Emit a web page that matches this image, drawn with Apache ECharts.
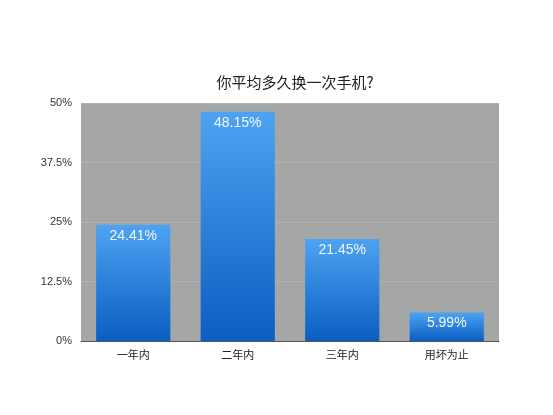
<!DOCTYPE html>
<html><head><meta charset="utf-8">
<script src="https://cdn.jsdelivr.net/npm/echarts@6/dist/echarts.min.js"></script>
<style>html,body{margin:0;padding:0;background:#fff}#c{width:553px;height:415px}</style>
</head><body><div id="c"></div>
<script>
const title = '你平均多久换一次手机?';
const categories = ['一年内', '二年内', '三年内', '用坏为止'];
const values = [24.41, 48.15, 21.45, 5.99];
const yTicks = [0, 12.5, 25, 37.5, 50];

const chart = echarts.init(document.getElementById('c'));
chart.setOption({
  animation: false,
  title: {
    text: title, left: 290, textAlign: 'center', top: 70,
    textStyle: { fontFamily: 'Noto Sans CJK SC', fontSize: 15, fontWeight: 'normal', color: '#222' }
  },
  grid: { left: 81, right: 54, top: 103, bottom: 74, show: true, backgroundColor: '#a4a7a6', borderWidth: 0 },
  xAxis: {
    type: 'category', data: categories,
    axisLine: { lineStyle: { color: '#555', width: 1 } },
    axisTick: { show: false },
    axisLabel: { fontFamily: 'Noto Sans CJK SC', fontSize: 11, color: '#222', margin: 8 }
  },
  yAxis: {
    type: 'value', min: yTicks[0], max: yTicks[yTicks.length - 1], interval: 12.5,
    axisLine: { show: false }, axisTick: { show: false },
    axisLabel: { formatter: v => v + '%', fontFamily: 'Liberation Sans', fontSize: 11, color: '#333', margin: 9 },
    splitLine: { lineStyle: { color: '#b8bbba', type: [1, 1] } }
  },
  series: [{
    type: 'bar', data: values, barWidth: '71%',
    itemStyle: {
      color: new echarts.graphic.LinearGradient(0, 0, 0, 1, [
        { offset: 0, color: '#4da3f2' }, { offset: 1, color: '#0a5ec2' }
      ])
    },
    label: {
      show: true, position: 'insideTop', distance: 4, formatter: p => p.value + '%',
      color: '#f4f8fc', fontFamily: 'Liberation Sans', fontSize: 14
    }
  }]
});
</script></body></html>
